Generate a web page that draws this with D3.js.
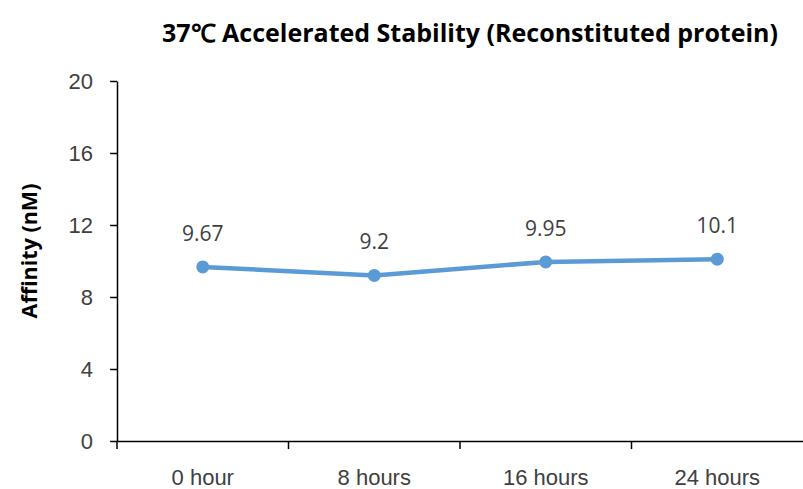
<!DOCTYPE html>
<html>
<head>
<meta charset="utf-8">
<script src="https://cdn.jsdelivr.net/npm/d3@7"></script>
<style>
  body { margin: 0; background: #fff; }
  svg { display: block; font-family: "Open Sans", sans-serif; }
</style>
</head>
<body>
<svg id="chart"></svg>
<script>
// data
const timepoints = ["0 hour", "8 hours", "16 hours", "24 hours"];
const affinity = [9.67, 9.2, 9.95, 10.1];
const yTicks = [0, 4, 8, 12, 16, 20];

const width = 803, height = 489;
const margin = { top: 81, right: 0, bottom: 48, left: 117 };

const svg = d3.select("#chart")
    .attr("width", width)
    .attr("height", height);

// scales
const x = d3.scaleBand()
    .domain(timepoints)
    .range([margin.left, width - margin.right]);

const y = d3.scaleLinear()
    .domain([0, 20])
    .range([height - margin.bottom, margin.top]);

// y axis
const yAxis = svg.append("g")
    .attr("transform", `translate(${margin.left},0)`)
    .call(d3.axisLeft(y).tickValues(yTicks).tickSize(7).tickPadding(17).tickSizeOuter(0));
yAxis.select(".domain").attr("stroke", "#000").attr("stroke-width", 1.5);
yAxis.selectAll(".tick line").attr("stroke", "#000").attr("stroke-width", 1.5);
yAxis.selectAll("text")
    .style("font-size", "22px")
    .attr("fill", "#404040");

// x axis, labels centred in bands, ticks on band edges
const xAxis = svg.append("g")
    .attr("transform", `translate(0,${y(0)})`)
    .call(d3.axisBottom(x).tickSize(0).tickPadding(28).tickSizeOuter(0));
xAxis.select(".domain").attr("stroke", "#000").attr("stroke-width", 1.5);
xAxis.selectAll("text")
    .style("font-size", "22px")
    .attr("fill", "#404040");

const edges = timepoints.map(d => x(d));
xAxis.selectAll(".edge")
    .data(edges)
    .enter().append("line")
    .attr("class", "edge")
    .attr("x1", d => d).attr("x2", d => d)
    .attr("y1", 0).attr("y2", 8)
    .attr("stroke", "#000")
    .attr("stroke-width", 1.5);

// line + markers
const cx = d => x(d) + x.bandwidth() / 2;
const line = d3.line()
    .x((d, i) => cx(timepoints[i]))
    .y(d => y(d));

svg.append("path")
    .datum(affinity)
    .attr("d", line)
    .attr("fill", "none")
    .attr("stroke", "#5b9bd5")
    .attr("stroke-width", 4.5)
    .attr("stroke-linejoin", "round");

svg.selectAll(".dot")
    .data(affinity)
    .enter().append("circle")
    .attr("class", "dot")
    .attr("cx", (d, i) => cx(timepoints[i]))
    .attr("cy", d => y(d))
    .attr("r", 6.5)
    .attr("fill", "#5b9bd5");

// value labels
svg.selectAll(".val")
    .data(affinity)
    .enter().append("text")
    .attr("class", "val")
    .attr("x", (d, i) => cx(timepoints[i]))
    .attr("y", d => y(d) - 26)
    .attr("text-anchor", "middle")
    .style("font-size", "21px")
    .attr("fill", "#404040")
    .text(d => d);

// title
svg.append("text")
    .attr("x", 470)
    .attr("y", 42)
    .attr("text-anchor", "middle")
    .style("font-size", "25px")
    .style("font-weight", "bold")
    .attr("fill", "#000")
    .text("37℃ Accelerated Stability (Reconstituted protein)");

// y label
svg.append("text")
    .attr("transform", `translate(37,${251}) rotate(-90)`)
    .attr("text-anchor", "middle")
    .style("font-size", "21.5px")
    .style("font-weight", "bold")
    .attr("fill", "#000")
    .text("Affinity (nM)");
</script>
</body>
</html>
